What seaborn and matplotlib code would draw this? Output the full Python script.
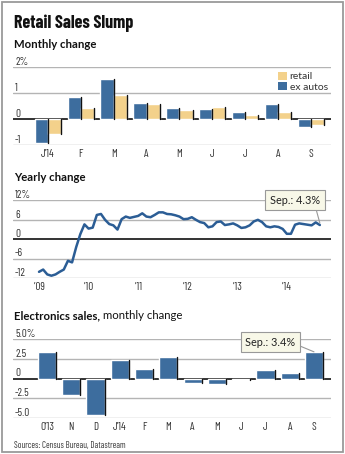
import numpy as np
import pandas as pd
import matplotlib
matplotlib.use("Agg")
import matplotlib.pyplot as plt
from matplotlib.patches import Patch, Rectangle
from matplotlib.lines import Line2D
import seaborn as sns

# ---------------- data ----------------
monthly_keys = ["Jan14", "Feb14", "Mar14", "Apr14", "May14", "Jun14", "Jul14", "Aug14", "Sep14"]
monthly_labels = ["J\u201914", "F", "M", "A", "M", "J", "J", "A", "S"]
ex_autos = [-0.94, 0.84, 1.52, 0.61, 0.42, 0.39, 0.26, 0.57, -0.32]
retail = [-0.56, 0.43, 0.94, 0.58, 0.35, 0.48, 0.14, 0.26, -0.23]

yearly_change = [
    -10.1, -9.4, -10.9, -11.3, -10.9, -10.1, -9.4, -6.7, -7.2, -2.5, 1.5, 4.5,   # 2009
    3.2, 3.5, 7.4, 7.7, 5.9, 4.6, 4.2, 2.9, 6.1, 6.9, 6.5, 6.8,                 # 2010
    7.1, 7.9, 6.9, 6.7, 7.4, 8.2, 8.2, 7.7, 7.6, 7.3, 6.9, 6.1,                 # 2011
    6.2, 6.7, 5.9, 5.2, 4.9, 3.6, 3.9, 5.2, 5.4, 4.3, 4.5, 4.8,                 # 2012
    4.2, 3.4, 3.6, 4.2, 5.4, 5.9, 5.2, 3.9, 3.6, 3.9, 3.7, 3.1,                 # 2013
    1.6, 1.6, 4.4, 4.8, 4.6, 4.4, 4.2, 5.1, 4.3,                                # 2014
]
year_tick_labels = ["\u201909", "\u201910", "\u201911", "\u201912", "\u201913", "\u201914"]

elec_keys = ["Oct13", "Nov13", "Dec13", "Jan14", "Feb14", "Mar14", "Apr14", "May14",
             "Jun14", "Jul14", "Aug14", "Sep14"]
elec_labels = ["O\u201913", "N", "D", "J\u201914", "F", "M", "A", "M", "J", "J", "A", "S"]
electronics = [3.35, -2.08, -4.62, 2.42, 1.19, 2.71, -0.55, -0.72, -0.17, 1.14, 0.68, 3.4]

# ---------------- style ----------------
sns.set_theme(style="white")
HEAD = ["Lato", "Open Sans", "DejaVu Sans"]
NARROW = ["Barlow Condensed", "Archivo Narrow", "Liberation Sans Narrow", "DejaVu Sans"]
plt.rcParams["font.family"] = HEAD

BLUE = "#3d6d9e"
YELLOW = "#f3d18b"
LINE = "#2b5d95"
GRID = "#b4b4b4"
TXT = "#333333"

W, H = 345, 454
fig = plt.figure(figsize=(W / 100, H / 100), dpi=100)
fig.patch.set_facecolor("white")


def add_ax(top_px, bottom_px, left_px=13, right_px=331):
    return fig.add_axes([left_px / W, (H - bottom_px) / H,
                         (right_px - left_px) / W, (bottom_px - top_px) / H])


def style_axis(ax, yticks, ylabels):
    for s in ax.spines.values():
        s.set_visible(False)
    ax.set_yticks(yticks)
    ax.set_yticklabels(ylabels)
    ax.tick_params(axis="both", length=0)
    ax.tick_params(axis="y", pad=-1.5, labelsize=8, labelcolor=TXT)
    ax.tick_params(axis="x", pad=3, labelsize=8, labelcolor=TXT)
    for lab in ax.get_yticklabels():
        lab.set_horizontalalignment("left")
        lab.set_verticalalignment("bottom")
        lab.set_fontfamily(NARROW)
    for lab in ax.get_xticklabels():
        lab.set_fontfamily(NARROW)
    ax.grid(False)
    for v in yticks:
        if v == 0:
            ax.axhline(0, color="#111111", lw=1.2, zorder=1)
        else:
            ax.axhline(v, color=GRID, lw=1.0, zorder=0)
    ax.set_xlabel("")
    ax.set_ylabel("")
    ax.set_facecolor("none")


def add_shadows(ax):
    for p in ax.patches:
        if p.get_width() <= 0 or p.get_height() == 0:
            continue
        x = p.get_x() + p.get_width()
        y0 = p.get_y()
        y1 = p.get_y() + p.get_height()
        ax.add_line(Line2D([x, x], [y0, y1], color="#111111", lw=1.0, zorder=3))


# ---------------- panel 1 ----------------
ax1 = add_ax(67, 145)
df1 = pd.DataFrame({
    "month": monthly_keys * 2,
    "value": ex_autos + retail,
    "series": ["ex autos"] * len(ex_autos) + ["retail"] * len(retail),
})
sns.barplot(data=df1, x="month", y="value", hue="series", order=monthly_keys,
            hue_order=["ex autos", "retail"], palette=[BLUE, YELLOW], width=0.8,
            saturation=1, ax=ax1, legend=False, zorder=2)
add_shadows(ax1)
ax1.set_xlim(-1.06, 8.61)
ax1.set_ylim(-1, 2)
ax1.set_xticks(range(len(monthly_keys)))
ax1.set_xticklabels(monthly_labels)
style_axis(ax1, [-1, 0, 1, 2], ["-1", "0", "1", "2%"])
leg = ax1.legend(handles=[Patch(facecolor=YELLOW, edgecolor="none", label="retail"),
                          Patch(facecolor=BLUE, edgecolor="none", label="ex autos")],
                 loc="upper right", bbox_to_anchor=(1.0, 0.98), frameon=False,
                 fontsize=7.5, handlelength=0.8, handleheight=0.8, handletextpad=0.3,
                 labelspacing=0.1, borderaxespad=0.2, borderpad=0.1)
for t in leg.get_texts():
    t.set_color(TXT)

# ---------------- panel 2 ----------------
ax2 = add_ax(200, 278)
idx = np.arange(len(yearly_change))
sns.lineplot(x=idx, y=yearly_change, color=LINE, lw=1.8, ax=ax2, zorder=3)
ax2.set_xlim(-6.3, 70.7)
ax2.set_ylim(-12, 12)
ax2.set_xticks(np.arange(0, 61, 12))
ax2.set_xticklabels(year_tick_labels)
style_axis(ax2, [-12, -6, 0, 6, 12], ["-12", "-6", "0", "6", "12%"])
box = dict(boxstyle="square,pad=0.45", fc="#f8f8e8", ec="#999999", lw=0.8)
ax2.annotate("Sep.: 4.3%", xy=(idx[-1], yearly_change[-1] + 0.6),
             xytext=(295, H - 200), textcoords="figure pixels",
             ha="center", va="center", fontsize=7.8, color="#222222", bbox=box,
             arrowprops=dict(arrowstyle="-", color="#999999", lw=0.8,
                             shrinkA=0, shrinkB=0, relpos=(0.9, 0.0)),
             annotation_clip=False, zorder=6)

# ---------------- panel 3 ----------------
ax3 = add_ax(339.3, 417.7)
df3 = pd.DataFrame({"month": elec_keys, "value": electronics})
sns.barplot(data=df3, x="month", y="value", order=elec_keys, color=BLUE,
            saturation=1, width=0.75, ax=ax3, zorder=2)
add_shadows(ax3)
ax3.set_xlim(-1.4, 11.7)
ax3.set_ylim(-5, 5)
ax3.set_xticks(range(len(elec_keys)))
ax3.set_xticklabels(elec_labels)
style_axis(ax3, [-5, -2.5, 0, 2.5, 5], ["-5.0", "-2.5", "0", "2.5", "5.0%"])
ax3.annotate("Sep.: 3.4%", xy=(len(electronics) - 1, electronics[-1]),
             xytext=(270.5, H - 342), textcoords="figure pixels",
             ha="center", va="center", fontsize=7.8, color="#222222", bbox=box,
             arrowprops=dict(arrowstyle="-", color="#999999", lw=0.8,
                             shrinkA=0, shrinkB=0, relpos=(1.0, 0.3)),
             annotation_clip=False, zorder=6)

# ---------------- texts ----------------
fig.text(14 / W, (H - 28) / H, "Retail Sales Slump", fontsize=13, fontweight="bold",
         family=NARROW, color="#111111", va="baseline", ha="left")
fig.text(14 / W, (H - 48.5) / H, "Monthly change", fontsize=8.2, fontweight="bold",
         color="#111111", va="baseline", ha="left")
fig.text(14 / W, (H - 181) / H, "Yearly change", fontsize=8.2, fontweight="bold",
         color="#111111", va="baseline", ha="left")
t = fig.text(14 / W, (H - 319) / H, "Electronics sales,", fontsize=8.2, fontweight="bold",
             color="#111111", va="baseline", ha="left")
fig.canvas.draw()
bb = t.get_window_extent()
fig.text((bb.x1 + 3) / W, (H - 319) / H, "monthly change", fontsize=8.2,
         color="#111111", va="baseline", ha="left")
fig.text(14 / W, (H - 448) / H, "Sources: Census Bureau, Datastream",
         fontsize=6.4, family=NARROW, color=TXT, va="baseline", ha="left")

# frame
fig.patches.append(Rectangle((2 / W, 2 / H), (W - 4) / W, (H - 4) / H,
                             transform=fig.transFigure, fill=False,
                             ec="#9a9a9a", lw=1.3, zorder=10))

fig.savefig("out.png", dpi=100)
